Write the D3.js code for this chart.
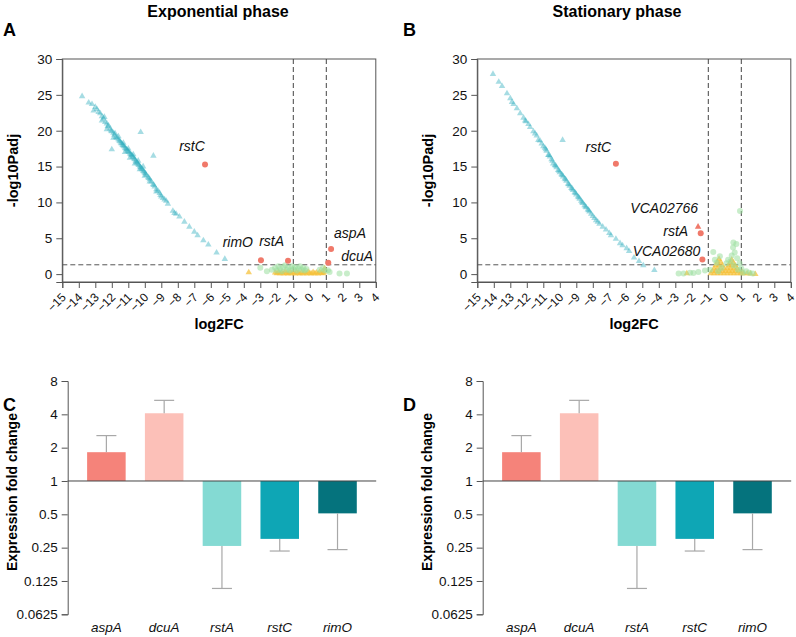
<!DOCTYPE html>
<html><head><meta charset="utf-8">
<script src="https://cdn.jsdelivr.net/npm/d3@7"></script>
<style>body{margin:0;background:#fff}svg{display:block}text{font-family:"Liberation Sans",Arial,sans-serif}</style>
</head><body><div id="chart"></div>
<script>
// ---------- DATA ----------
const xTicks = [-15,-14,-13,-12,-11,-10,-9,-8,-7,-6,-5,-4,-3,-2,-1,0,1,2,3,4];
const yTicksVolcano = [0,5,10,15,20,25,30];

// Panel A (exponential) : [log2FC, -log10Padj]
const expDown = [[-13.8,24.8],[-13.4,23.9],[-13.2,23.7],[-13.1,22.8],[-13.0,23.3],[-12.9,23.0],[-12.8,22.6],[-12.7,22.4],[-12.6,22.0],[-12.6,21.4],[-12.5,21.7],[-12.45,21.9],[-12.4,21.2],[-12.3,21.0],[-12.3,20.2],[-12.25,20.6],[-12.2,20.7],[-12.1,20.3],[-12.05,20.0],[-12.0,19.9],[-11.9,19.7],[-11.9,19.0],[-11.85,19.4],[-11.8,19.6],[-11.75,19.1],[-11.7,19.0],[-11.6,18.8],[-11.6,19.2],[-11.55,18.6],[-11.5,18.5],[-11.45,18.3],[-11.4,18.2],[-11.35,18.0],[-11.3,17.9],[-11.3,18.3],[-11.25,17.8],[-11.2,17.6],[-11.2,17.0],[-11.15,17.5],[-11.1,17.4],[-11.05,17.2],[-11.0,17.1],[-11.0,17.5],[-10.95,17.0],[-10.9,16.8],[-10.9,16.2],[-10.85,16.7],[-10.8,16.6],[-10.75,16.4],[-10.7,16.3],[-10.7,16.7],[-10.65,16.1],[-10.6,16.0],[-10.6,15.4],[-10.55,15.8],[-10.5,15.6],[-10.45,15.5],[-10.4,15.3],[-10.4,15.8],[-10.35,15.2],[-10.3,15.0],[-10.3,14.6],[-10.25,14.9],[-10.2,14.7],[-10.15,14.6],[-10.1,14.4],[-10.1,15.0],[-10.05,14.3],[-10.0,14.1],[-10.0,13.7],[-9.95,14.0],[-9.9,13.8],[-9.8,13.5],[-9.75,13.4],[-9.7,13.2],[-9.7,12.9],[-9.6,12.9],[-9.5,12.5],[-9.45,12.4],[-9.4,12.2],[-9.3,11.8],[-9.3,11.5],[-9.2,11.6],[-9.1,11.3],[-9.05,11.0],[-9.0,10.8],[-8.9,10.6],[-8.8,10.4],[-8.7,10.2],[-8.6,9.8],[-8.3,8.8],[-8.2,8.5],[-8.1,8.4],[-7.9,8.0],[-7.6,7.3],[-7.3,6.6],[-7.0,5.9],[-6.8,5.4],[-6.45,4.7],[-6.15,4.1],[-5.65,3.0],[-5.15,2.1],[-10.25,19.8],[-12.0,17.4],[-9.48,16.5]];
const expNS = [[-3.0,0.9],[-2.6,0.4],[-2.3,0.6],[-2.1,0.9],[-2.0,0.5],[-1.9,1.1],[-1.8,0.7],[-1.7,0.4],[-1.6,1.0],[-1.5,1.25],[-1.4,0.6],[-1.3,0.9],[-1.2,0.5],[-1.1,1.1],[-1.0,0.7],[-0.9,1.0],[-0.8,0.5],[-0.7,0.8],[-0.6,1.1],[-0.5,0.6],[-0.4,0.9],[-0.3,0.5],[-0.2,0.7],[0.6,0.6],[0.8,0.9],[0.9,0.5],[1.1,0.55],[1.2,0.3],[1.8,0.1],[2.25,0.1]];
const expLow = [[-3.7,0.24],[-2.1,0.2],[-2.0,0.1],[-1.9,0.25],[-1.8,0.1],[-1.7,0.2],[-1.6,0.05],[-1.5,0.3],[-1.4,0.15],[-1.3,0.05],[-1.2,0.25],[-1.1,0.1],[-1.0,0.2],[-0.9,0.05],[-0.8,0.3],[-0.7,0.15],[-0.6,0.05],[-0.5,0.25],[-0.4,0.1],[-0.3,0.2],[-0.2,0.05],[-0.1,0.3],[0.0,0.15],[0.1,0.05],[0.2,0.25],[0.3,0.1],[0.4,0.2],[0.5,0.05],[0.6,0.3],[0.7,0.15],[0.8,0.1],[0.9,0.8],[0.85,0.25]];
const expGenes = [{gene:"rstC",x:-6.35,y:15.3,shape:"circle"},{gene:"rimO",x:-2.96,y:1.95,shape:"circle"},{gene:"rstA",x:-1.32,y:1.86,shape:"circle"},{gene:"aspA",x:1.29,y:3.5,shape:"circle"},{gene:"dcuA",x:1.12,y:1.6,shape:"circle"}];

// Panel B (stationary)
const staDown = [[-14.05,27.9],[-13.7,26.8],[-13.5,26.2],[-13.2,25.2],[-13.0,24.5],[-12.9,24.0],[-12.8,23.7],[-12.6,23.1],[-12.4,22.4],[-12.2,21.8],[-12.1,21.4],[-12.05,21.3],[-11.9,20.9],[-11.8,20.5],[-11.6,19.9],[-11.5,19.6],[-11.4,19.3],[-11.3,18.7],[-11.2,18.6],[-11.1,18.2],[-11.0,17.8],[-10.9,17.6],[-10.85,17.4],[-10.8,17.2],[-10.7,16.6],[-10.65,16.6],[-10.6,16.4],[-10.5,16.0],[-10.45,15.8],[-10.4,15.4],[-10.3,15.2],[-10.25,15.1],[-10.2,14.9],[-10.1,14.5],[-10.05,14.4],[-10.0,14.2],[-9.9,13.9],[-9.85,13.8],[-9.8,13.6],[-9.7,13.3],[-9.65,13.2],[-9.6,13.0],[-9.5,12.6],[-9.45,12.5],[-9.4,12.3],[-9.3,12.0],[-9.25,11.9],[-9.2,11.7],[-9.1,11.4],[-9.05,11.3],[-9.0,11.1],[-8.9,10.8],[-8.85,10.7],[-8.8,10.5],[-8.7,10.2],[-8.65,10.0],[-8.6,9.9],[-8.5,9.6],[-8.45,9.4],[-8.4,9.3],[-8.3,9.0],[-8.25,8.9],[-8.2,8.7],[-8.1,8.4],[-8.0,8.1],[-7.9,7.8],[-7.8,7.5],[-7.7,7.3],[-7.6,7.0],[-7.4,6.6],[-7.2,6.2],[-7.0,5.7],[-6.9,5.4],[-6.6,4.9],[-6.35,4.3],[-6.2,4.0],[-5.95,3.6],[-5.8,3.2],[-5.5,2.3],[-5.2,1.8],[-4.94,1.2],[-4.27,0.56],[-9.83,18.7]];
const staNS = [[0.92,8.8],[0.52,4.4],[0.7,4.2],[0.5,3.7],[0.42,2.6],[0.6,3.0],[0.75,2.2],[0.35,1.8],[-0.7,3.1],[-0.6,2.0],[-0.5,1.6],[-0.3,2.5],[0.1,1.5],[0.2,2.0],[0.9,1.5],[1.0,0.8],[1.3,0.4],[1.5,0.2],[-2.8,0.1],[-2.5,0.1],[-2.1,0.2],[-1.9,0.15],[-1.6,0.3],[-1.2,0.5],[-0.9,0.6],[-0.4,0.4],[-0.2,0.9],[0.55,1.2],[0.8,0.6],[1.1,0.2],[1.7,0.1]];
const staLow = [[-2.3,0.1],[-0.35,2.1],[-0.45,1.7],[-0.25,1.7],[-0.55,1.2],[-0.35,1.3],[-0.15,1.2],[-0.65,0.8],[-0.45,0.8],[-0.25,0.8],[-0.05,0.8],[-0.75,0.4],[-0.55,0.4],[-0.35,0.4],[-0.15,0.4],[0.05,0.4],[-0.85,0.1],[-0.65,0.1],[-0.45,0.1],[-0.25,0.1],[-0.05,0.1],[0.15,0.1],[0.42,2.0],[0.32,1.6],[0.52,1.6],[0.22,1.2],[0.42,1.2],[0.62,1.2],[0.15,0.8],[0.35,0.8],[0.55,0.8],[0.75,0.8],[0.25,0.4],[0.45,0.4],[0.65,0.4],[0.85,0.4],[0.35,0.1],[0.55,0.1],[0.75,0.1],[0.95,0.1],[1.15,0.1],[1.35,0.1],[1.55,0.05],[1.85,0.0],[1.05,0.3]];
const staGenes = [{gene:"rstC",x:-6.6,y:15.4,shape:"circle"},{gene:"VCA02766",x:-1.62,y:6.6,shape:"triangle"},{gene:"rstA",x:-1.46,y:5.7,shape:"circle"},{gene:"VCA02680",x:-1.36,y:2.05,shape:"circle"}];

// Bar charts (qPCR)
const barGenes = ["aspA","dcuA","rstA","rstC","rimO"];
const expFold = [1.82,4.09,0.259,0.30,0.51];
const expErr  = [2.57,5.35,0.107,0.233,0.24];
const staFold = [1.82,4.09,0.259,0.30,0.51];
const staErr  = [2.57,5.35,0.107,0.233,0.24];
const foldTicks = [0.0625,0.125,0.25,0.5,1,2,4,8];
const foldTickLabels = ["0.0625","0.125","0.25","0.5","1","2","4","8"];

// ---------- DRAW ----------
const W=796,H=637;
const svg=d3.select("#chart").append("svg").attr("width",W).attr("height",H);
const barColors = {aspA:"#f5837a",dcuA:"#fcc0b8",rstA:"#84dad3",rstC:"#0ea6b5",rimO:"#05737d"};
const axisColor="#555";

function styleAxis(g){
  g.select(".domain").attr("stroke",axisColor);
  g.selectAll(".tick line").attr("stroke",axisColor);
  g.selectAll(".tick text").attr("fill","#111").style("font-size","13px").style("font-family","'Liberation Sans',Arial,sans-serif");
}

function volcano(left, down, ns, low, genes, labelPos){
  const right=left+313.5, top=59, bottom=282;
  const x=d3.scaleLinear().domain([-15,4]).range([left,right]);
  const y=d3.scaleLinear().domain([-1.1,30]).range([bottom,top]);
  const g=svg.append("g");
  g.append("rect").attr("x",left).attr("y",top).attr("width",right-left).attr("height",bottom-top)
    .attr("fill","none").attr("stroke",axisColor).attr("stroke-width",1);
  const ya=g.append("g").attr("transform",`translate(${left},0)`).call(d3.axisLeft(y).tickValues(yTicksVolcano).tickSize(6).tickPadding(4));
  styleAxis(ya);
  ya.selectAll(".tick text").style("font-size","13.5px");
  const xa=g.append("g").attr("transform",`translate(0,${bottom})`).call(d3.axisBottom(x).tickValues(xTicks).tickSize(6));
  styleAxis(xa);
  xa.selectAll(".tick text").attr("text-anchor","end").attr("dy","0").attr("y",0)
    .attr("transform","translate(4,16) rotate(-45)").style("font-size","12px");
  const dash="5,3";
  [-1,1].forEach(v=>g.append("line").attr("x1",x(v)).attr("x2",x(v)).attr("y1",top).attr("y2",bottom)
    .attr("stroke","#444").attr("stroke-dasharray",dash).attr("stroke-width",1));
  g.append("line").attr("x1",left).attr("x2",right).attr("y1",y(-Math.log10(0.05))).attr("y2",y(-Math.log10(0.05)))
    .attr("stroke","#555").attr("stroke-dasharray",dash).attr("stroke-width",1);
  const tri=d3.symbol().type(d3.symbolTriangle).size(18);
  g.append("g").selectAll("path").data(low).join("path").attr("d",tri)
    .attr("transform",d=>`translate(${x(d[0])},${y(d[1])})`).attr("fill","#f6c13c").attr("fill-opacity",0.75);
  g.append("g").selectAll("circle").data(ns).join("circle").attr("cx",d=>x(d[0])).attr("cy",d=>y(d[1])).attr("r",3)
    .attr("fill","#9bdf9f").attr("fill-opacity",0.55);
  g.append("g").selectAll("path").data(down).join("path").attr("d",tri)
    .attr("transform",d=>`translate(${x(d[0])},${y(d[1])})`).attr("fill","#2aabbd").attr("fill-opacity",0.42);
  const sel=g.append("g");
  genes.forEach(d=>{
    if(d.shape==="triangle") sel.append("path").attr("d",tri).attr("transform",`translate(${x(d.x)},${y(d.y)})`).attr("fill","#f0796a");
    else sel.append("circle").attr("cx",x(d.x)).attr("cy",y(d.y)).attr("r",3).attr("fill","#f0796a");
    const p=labelPos[d.gene];
    sel.append("text").attr("x",x(d.x)+p[0]).attr("y",y(d.y)+p[1]).attr("text-anchor",p[2])
      .style("font-size","14px").style("font-style","italic").attr("fill","#111").text(d.gene);
  });
  g.append("text").attr("x",(left+right)/2).attr("y",329).attr("text-anchor","middle")
    .style("font-size","14.5px").style("font-weight","bold").text("log2FC");
  g.append("text").attr("transform",`translate(${left-49},${(top+bottom)/2}) rotate(-90)`).attr("text-anchor","middle")
    .attr("dy","0.35em").style("font-size","14.5px").style("font-weight","bold").text("-log10Padj");
}

function bars(left, fold, err){
  const right=left+308.5;
  const y=d3.scaleLog().base(2).domain([0.0625,8]).range([614.3,381]);
  const x=d3.scaleBand().domain(barGenes).range([left,right]).paddingInner(0.333).paddingOuter(0.336);
  const g=svg.append("g");
  const data=barGenes.map((k,i)=>({gene:k,v:fold[i],e:err[i]}));
  g.selectAll("rect").data(data).join("rect")
    .attr("x",d=>x(d.gene)).attr("width",x.bandwidth())
    .attr("y",d=>Math.min(y(d.v),y(1))).attr("height",d=>Math.abs(y(d.v)-y(1)))
    .attr("fill",d=>barColors[d.gene]);
  const eb=g.append("g").attr("stroke","#a8a8a8").attr("stroke-width",1.2);
  data.forEach(d=>{
    const cx=x(d.gene)+x.bandwidth()/2;
    eb.append("line").attr("x1",cx).attr("x2",cx).attr("y1",y(d.v)).attr("y2",y(d.e));
    eb.append("line").attr("x1",cx-10).attr("x2",cx+10).attr("y1",y(d.e)).attr("y2",y(d.e));
  });
  g.append("line").attr("x1",left).attr("x2",right).attr("y1",y(1)).attr("y2",y(1)).attr("stroke","#444").attr("stroke-width",1);
  const ya=g.append("g").attr("transform",`translate(${left},0)`)
    .call(d3.axisLeft(y).tickValues(foldTicks).tickFormat((d,i)=>foldTickLabels[i]).tickSize(6).tickPadding(4));
  styleAxis(ya);
  ya.selectAll(".tick text").style("font-size","13.5px");
  g.selectAll(".glab").data(barGenes).join("text").attr("class","glab")
    .attr("x",d=>x(d)+x.bandwidth()/2).attr("y",632).attr("text-anchor","middle")
    .style("font-size","13.5px").style("font-style","italic").attr("fill","#111").text(d=>d);
  g.append("text").attr("transform",`translate(${left-56},492) rotate(-90)`).attr("text-anchor","middle")
    .attr("dy","0.35em").style("font-size","14px").style("font-weight","bold").text("Expression fold change");
}

volcano(62.3, expDown, expNS, expLow, expGenes,
  {rstC:[-13,-13,"middle"],rimO:[-8,-13,"end"],rstA:[-4,-14.5,"end"],aspA:[3,-11,"start"],dcuA:[13,-2,"start"]});
volcano(477.3, staDown, staNS, staLow, staGenes,
  {rstC:[-17.5,-12,"middle"],VCA02766:[0,-14,"end"],rstA:[-12.5,3,"end"],VCA02680:[-2,-3,"end"]});
bars(67.7, expFold, expErr);
bars(482.7, staFold, staErr);

svg.append("text").attr("x",218).attr("y",17).attr("text-anchor","middle").style("font-size","16px").style("font-weight","bold").text("Exponential phase");
svg.append("text").attr("x",617).attr("y",17).attr("text-anchor","middle").style("font-size","16px").style("font-weight","bold").text("Stationary phase");
[["A",3,36],["B",403,36],["C",3,411],["D",403,411]].forEach(([t,x,y])=>
  svg.append("text").attr("x",x).attr("y",y).style("font-size","18px").style("font-weight","bold").text(t));
</script></body></html>
